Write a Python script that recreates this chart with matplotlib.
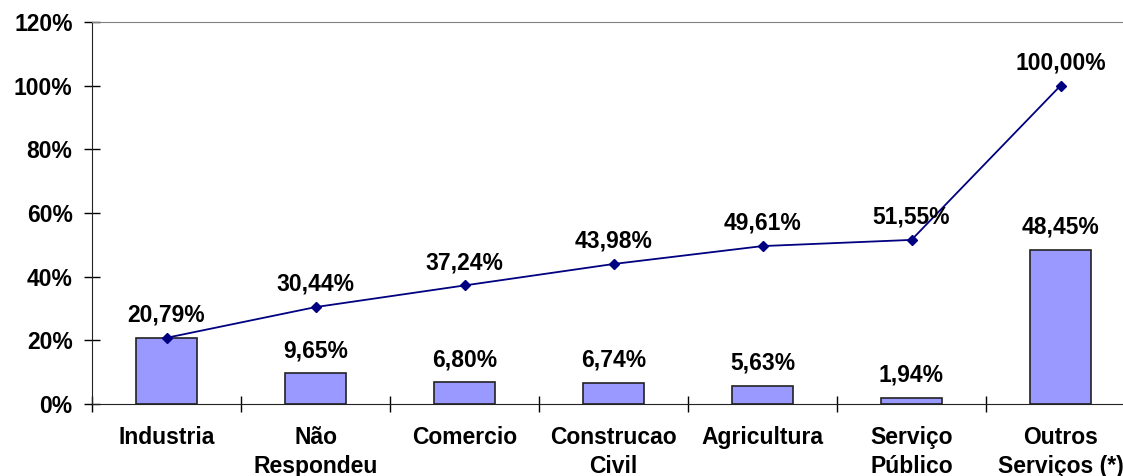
import matplotlib.pyplot as plt
from matplotlib.ticker import FuncFormatter

categorias = ['Industria', 'Não\nRespondeu', 'Comercio', 'Construcao\nCivil',
              'Agricultura', 'Serviço\nPúblico', 'Outros\nServiços (*)']
percentual = [20.79, 9.65, 6.80, 6.74, 5.63, 1.94, 48.45]
acumulado = [20.79, 30.44, 37.24, 43.98, 49.61, 51.55, 100.00]

plt.rcParams['font.family'] = ['Liberation Sans', 'DejaVu Sans']
plt.rcParams['font.weight'] = 'bold'

fig = plt.figure(figsize=(11.23, 4.76), dpi=100)
ax = fig.add_axes([92 / 1123, 72 / 476, 1043 / 1123, 382 / 476])

x = list(range(len(categorias)))
ax.bar(x, percentual, width=0.41, color='#9999FF', edgecolor='#222222', linewidth=1.2, zorder=2)
ax.plot(x, acumulado, color='#000080', marker='D', markersize=5, linewidth=1.3, zorder=3)

def fmt(v):
    return f'{v:.2f}'.replace('.', ',') + '%'

fs = 16.5
for xi, v in zip(x, percentual):
    ax.annotate(fmt(v), (xi, v), xytext=(0, 8), textcoords='offset points',
                ha='center', va='bottom', fontsize=fs, fontweight='bold')
# o primeiro ponto acumulado coincide com a barra
for xi, v in list(zip(x, acumulado))[1:]:
    ax.annotate(fmt(v), (xi, v), xytext=(0, 8), textcoords='offset points',
                ha='center', va='bottom', fontsize=fs, fontweight='bold')

ax.set_xlim(-0.5, len(categorias) - 0.5)
ax.set_ylim(0, 120)
ax.set_yticks(range(0, 121, 20))
ax.yaxis.set_major_formatter(FuncFormatter(lambda v, p: f'{int(v)}%'))
ax.tick_params(axis='y', direction='inout', length=12, width=1, labelsize=fs, pad=8)

ax.set_xticks([i + 0.5 for i in range(-1, len(categorias))])
ax.set_xticklabels([])
ax.set_xticks(x, minor=True)
ax.set_xticklabels(categorias, minor=True, fontsize=fs, fontweight='bold', linespacing=1.3)
ax.tick_params(axis='x', which='major', direction='inout', length=12, width=1)
ax.tick_params(axis='x', which='minor', length=0, pad=16)

ax.spines['right'].set_visible(False)
ax.spines['top'].set_color('#808080')
for s in ['left', 'bottom']:
    ax.spines[s].set_color('#222222')

fig.savefig('out.png', dpi=100)
